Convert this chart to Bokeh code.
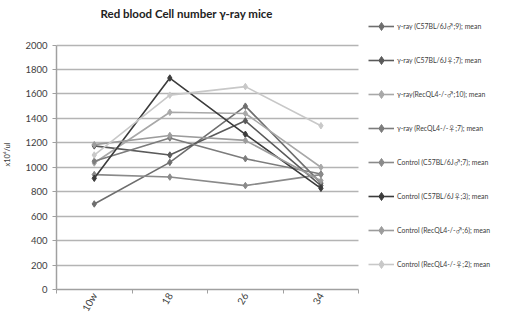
import math
from bokeh.plotting import figure
from bokeh.models import Legend, LegendItem, FixedTicker, Range1d
from bokeh.embed import file_html
from bokeh.resources import INLINE

weeks = ["10w", "18", "26", "34"]

series_names = [
    "γ-ray (C57BL/6J♂;9); mean",
    "γ-ray (C57BL/6J♀;7); mean",
    "γ-ray(RecQL4-/-♂;10); mean",
    "γ-ray (RecQL4-/-♀;7); mean",
    "Control (C57BL/6J♂;7); mean",
    "Control (C57BL/6J♀;3); mean",
    "Control (RecQL4-/-♂;6); mean",
    "Control (RecQL4-/-♀;2); mean",
]

gamma_c57_m = [700, 1040, 1500, 870]
gamma_c57_f = [1175, 1100, 1380, 850]
gamma_rec_m = [1035, 1450, 1440, 1000]
gamma_rec_f = [1050, 1240, 1070, 945]
control_c57_m = [940, 920, 850, 940]
control_c57_f = [910, 1730, 1270, 828]
control_rec_m = [1185, 1260, 1220, 890]
control_rec_f = [1100, 1590, 1660, 1340]

series_values = [gamma_c57_m, gamma_c57_f, gamma_rec_m, gamma_rec_f,
                 control_c57_m, control_c57_f, control_rec_m, control_rec_f]

y_ticks = list(range(0, 2001, 200))

colors = ["#6e6e6e", "#5a5a5a", "#a8a8a8", "#7c7c7c",
          "#8a8a8a", "#3c3c3c", "#9c9c9c", "#c8c8c8"]

FONT = "Lato"
LEGEND_FONT = "Lato, 'Noto Sans CJK JP'"

n = len(weeks)
xs = [i + 0.5 for i in range(n)]

x_end = n * 448 / 307
y_end = 2209

p = figure(width=497, height=319, output_backend="svg", toolbar_location=None,
           x_range=Range1d(0, x_end), y_range=Range1d(0, y_end),
           min_border_left=49, min_border_right=0, min_border_top=19,
           min_border_bottom=20)
p.outline_line_color = None
p.background_fill_color = "white"
p.border_fill_color = "white"

p.title.text = "Red blood Cell number γ-ray  mice"
p.title.text_font = FONT
p.title.text_font_size = "11.5px"
p.title.text_font_style = "bold"
p.title.text_color = "#222222"
p.title.align = "left"
p.title.offset = 44
p.title.standoff = 0

# grid
p.xgrid.grid_line_color = None
p.ygrid.grid_line_color = "#b4b4b4"
p.ygrid.grid_line_width = 1.5
p.ygrid.cross_bounds = (0, n)
p.yaxis.ticker = FixedTicker(ticks=y_ticks)

# axes
for ax in (p.xaxis[0], p.yaxis[0]):
    ax.axis_line_color = "#a0a0a0"
    ax.axis_line_width = 1.5
    ax.major_tick_line_color = "#a0a0a0"
    ax.minor_tick_line_color = "#a0a0a0"
    ax.major_label_text_font = FONT
    ax.major_label_text_color = "#404040"
    ax.major_label_text_font_size = "9.5px"

p.yaxis.bounds = (y_ticks[0], y_ticks[-1])
p.yaxis.major_tick_out = 4
p.yaxis.major_tick_in = 0
p.yaxis.minor_tick_out = 0
p.yaxis.minor_tick_in = 0
p.yaxis.axis_label = "x10⁶/ul"
p.yaxis.axis_label_text_font = FONT
p.yaxis.axis_label_text_font_size = "7.5px"
p.yaxis.axis_label_text_font_style = "normal"
p.yaxis.axis_label_text_color = "#404040"
p.yaxis.axis_label_standoff = 10

p.xaxis.bounds = (0, n)
p.xaxis.axis_label = None
p.xaxis.axis_label_standoff = 0
p.xaxis.ticker = FixedTicker(ticks=xs, minor_ticks=list(range(n + 1)))
p.xaxis.major_label_overrides = {x: w for x, w in zip(xs, weeks)}
p.xaxis.major_tick_out = 0
p.xaxis.major_tick_in = 0
p.xaxis.minor_tick_out = 4
p.xaxis.minor_tick_in = 0
p.xaxis.major_label_orientation = math.pi / 3
p.xaxis.major_label_standoff = 0
p.xaxis.major_label_text_font_size = "10px"

items = []
for name, vals, c in zip(series_names, series_values, colors):
    r1 = p.line(xs, vals, line_color=c, line_width=1.6)
    r2 = p.scatter(xs, vals, marker="diamond", size=6.5, fill_color=c, line_color=c)
    items.append(LegendItem(label=name, renderers=[r1, r2]))

legend = Legend(items=items, location=(312, 15), orientation="vertical",
                glyph_width=26, glyph_height=20, label_height=20,
                spacing=14, padding=0, margin=0, label_standoff=3,
                label_text_font=LEGEND_FONT, label_text_font_size="6.9px",
                label_text_color="#404040", border_line_color=None,
                background_fill_alpha=0)
p.add_layout(legend, "center")

open("out.html", "w").write(file_html(p, INLINE))
